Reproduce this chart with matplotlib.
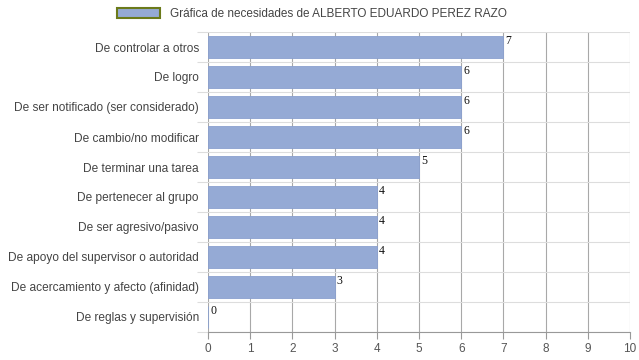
import matplotlib
matplotlib.use("Agg")
import matplotlib.pyplot as plt
from matplotlib.patches import Patch

categories = ["De controlar a otros", "De logro", "De ser notificado (ser considerado)",
              "De cambio/no modificar", "De terminar una tarea", "De pertenecer al grupo",
              "De ser agresivo/pasivo", "De apoyo del supervisor o autoridad",
              "De acercamiento y afecto (afinidad)", "De reglas y supervisión"]
values = [7, 6, 6, 6, 5, 4, 4, 4, 3, 0]
xticks = list(range(0, 11))
legend_label = "Gráfica de necesidades de ALBERTO EDUARDO PEREZ RAZO"

plt.rcParams['font.family'] = ['Liberation Sans', 'DejaVu Sans']
fig = plt.figure(figsize=(6.39, 3.6), dpi=100)
ax = fig.add_axes([208/639, 1-332/360, 422/639, 300/360])

ypos = list(range(len(categories)))
bars = ax.barh(ypos, values, height=0.72, color='#95aad5', edgecolor='#8aa0cf', linewidth=0.6, zorder=3)
for y, v in zip(ypos, values):
    ax.text(v + 0.05, y - 0.40, str(v), ha='left', va='top', fontsize=8.5,
            family=['Liberation Serif'], color='#111111', zorder=4)

ax.set_xlim(0, 10)
ax.set_ylim(len(categories) - 0.5, -0.5)
ax.set_xticks(xticks)
ax.set_xticklabels([str(t) for t in xticks], fontsize=8.5, color='#555555')
ax.set_yticks(ypos)
ax.set_yticklabels(categories, fontsize=8.6, color='#444444')
ax.set_yticks([y - 0.5 for y in range(len(categories) + 1)], minor=True)
ax.tick_params(axis='y', which='major', length=0, pad=6.5)
ax.tick_params(axis='y', which='minor', length=8, color='#dddddd', width=0.8)
ax.tick_params(axis='x', length=5, color='#999999', width=0.8, pad=3)
ax.grid(axis='x', which='major', color='#a8a8a8', linewidth=0.8, zorder=1)
ax.grid(axis='y', which='minor', color='#dddddd', linewidth=0.8, zorder=1)
for s in ['top', 'right', 'left']:
    ax.spines[s].set_visible(False)
ax.spines['bottom'].set_color('#999999')
ax.spines['bottom'].set_linewidth(0.8)

handle = Patch(facecolor='#95aad5', edgecolor='#6b7a1a', linewidth=1.5)
fig.legend([handle], [legend_label], loc='center', bbox_to_anchor=(312/639, 1-14/360),
           frameon=False, fontsize=8.5, handlelength=3.6, handleheight=0.9,
           labelcolor='#444444', handletextpad=0.85)

fig.savefig("out.png", dpi=100)
